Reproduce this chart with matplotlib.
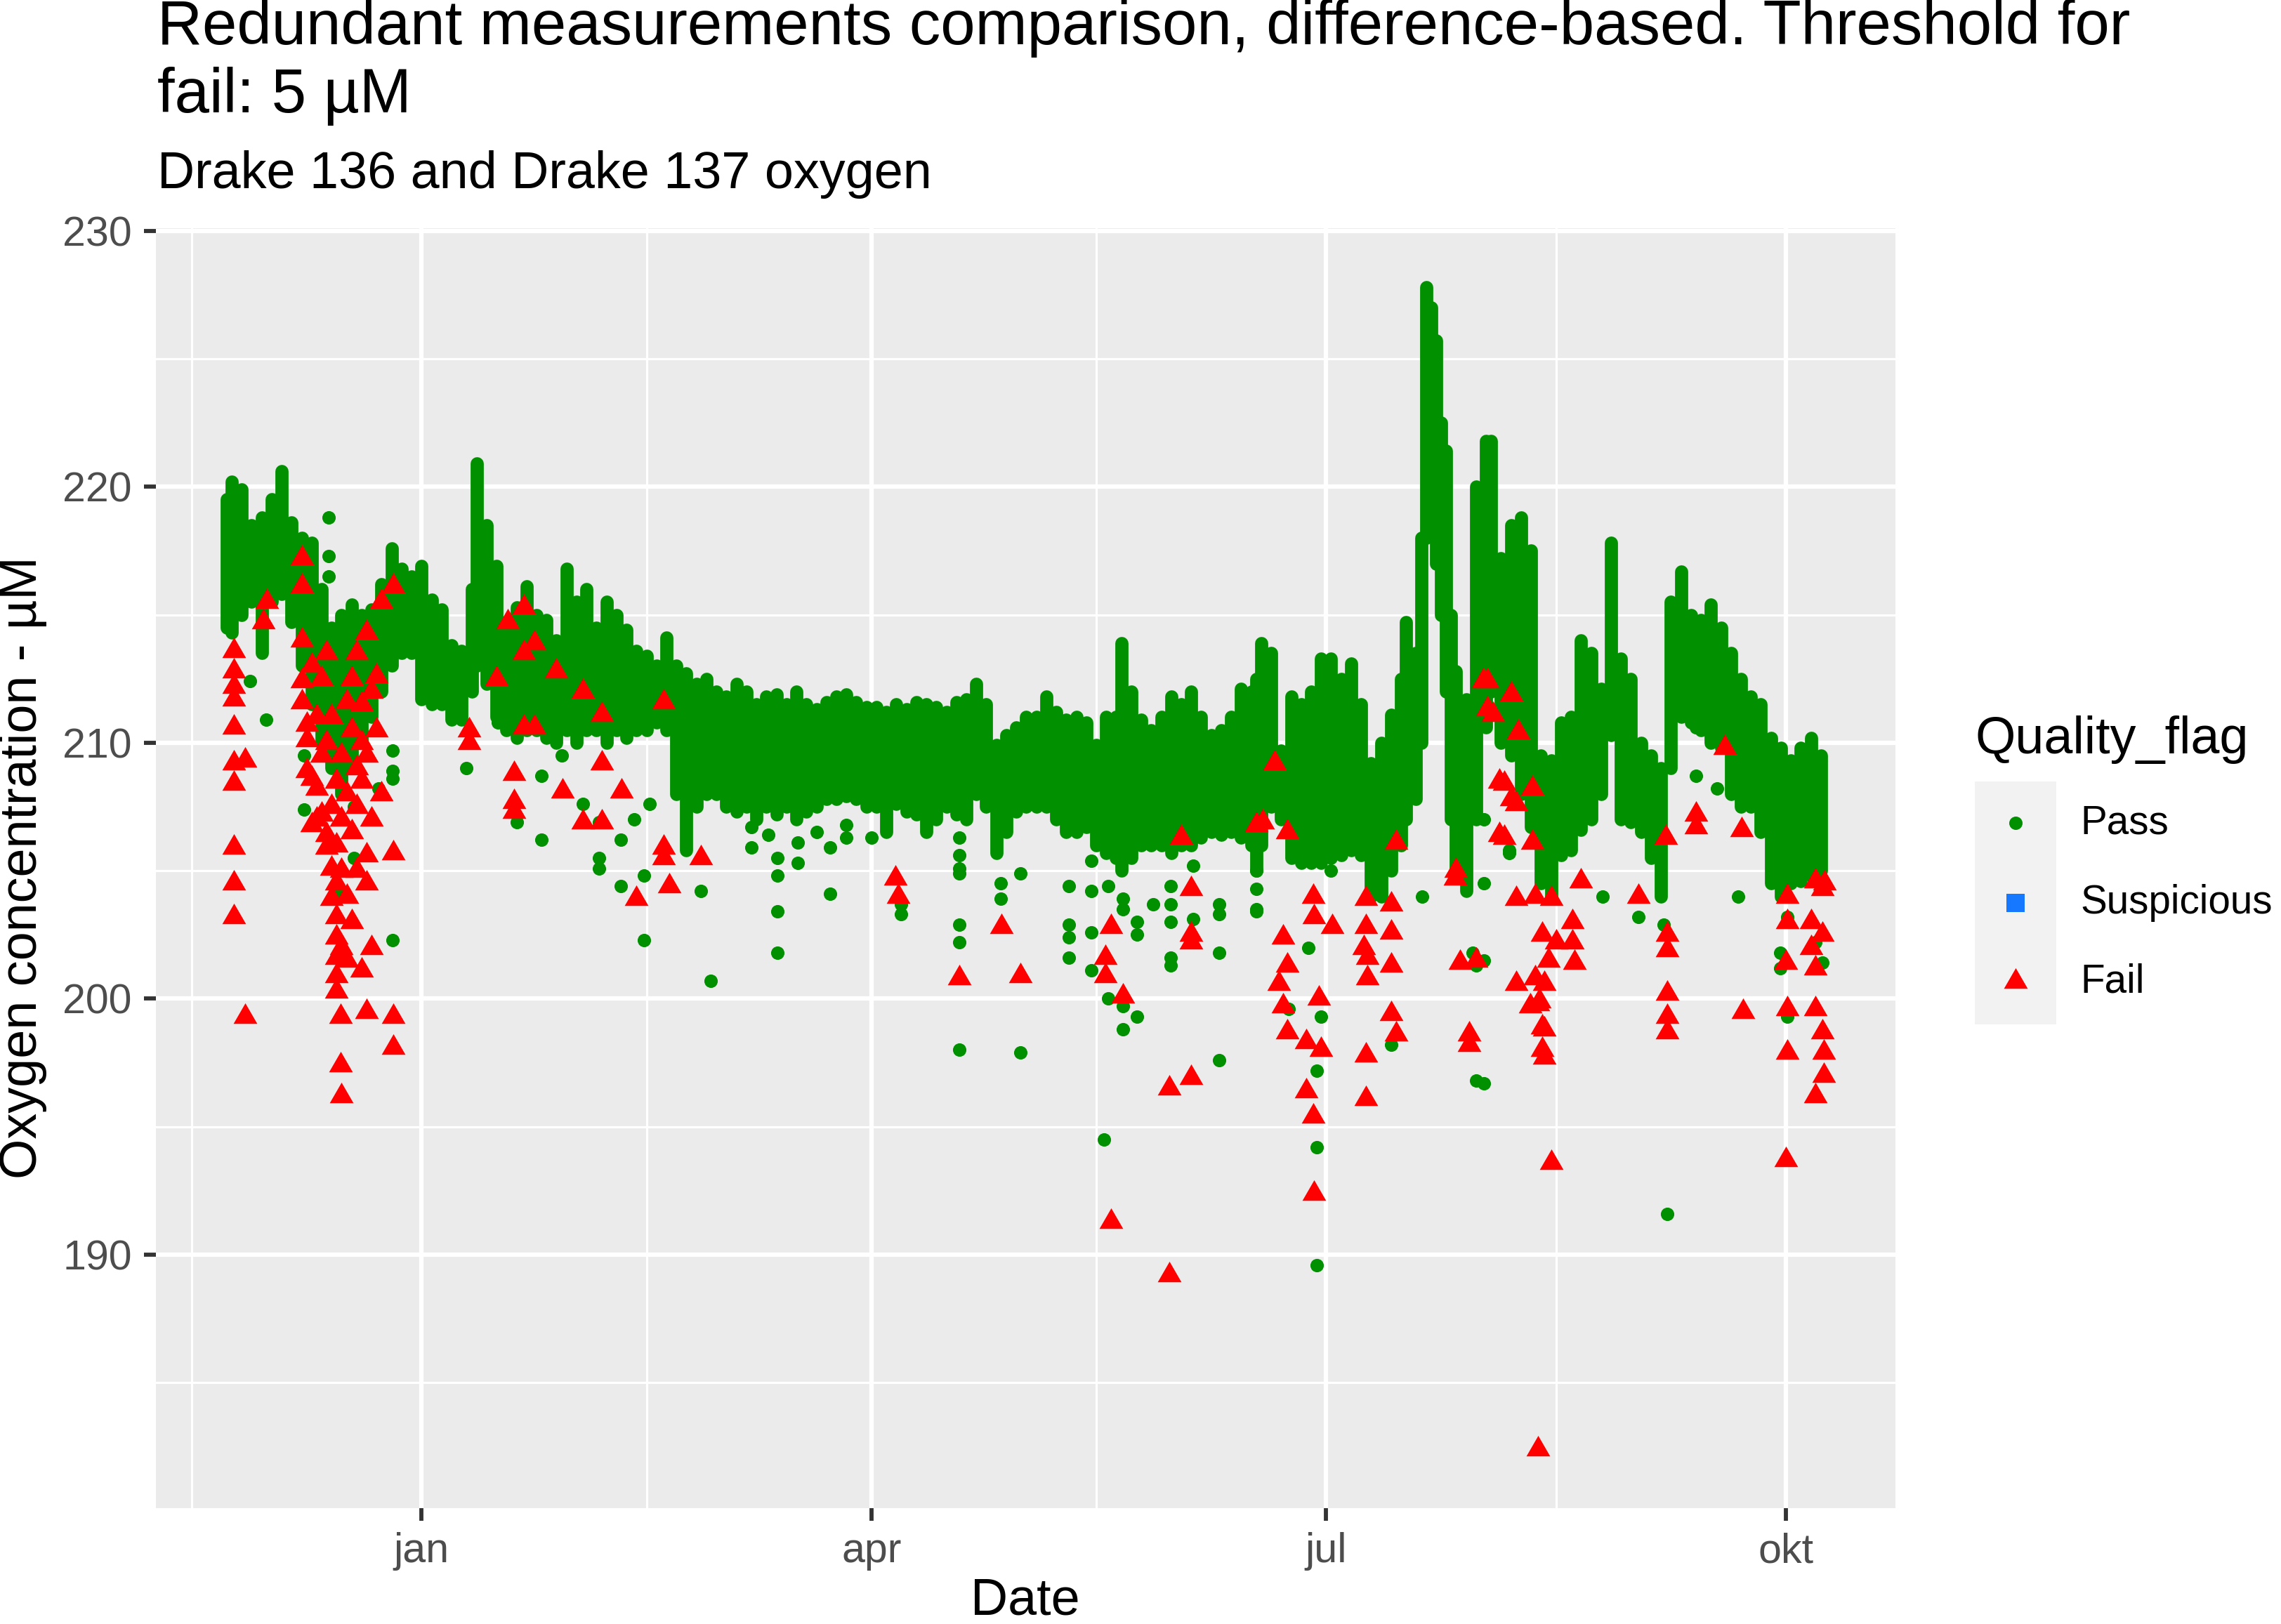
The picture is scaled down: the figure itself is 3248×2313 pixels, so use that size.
import numpy as np
import pandas as pd
import matplotlib
matplotlib.use('Agg')
import matplotlib.pyplot as plt
from matplotlib.lines import Line2D
from matplotlib.patches import Rectangle

GREEN = '#009000'
RED = '#FF0000'
BLUE = '#1677FF'

# dense part of the Pass points: upper / lower edge of the cloud
band_dates = [
    '2021-11-23', '2021-11-24', '2021-11-26', '2021-11-28', '2021-11-30', '2021-12-02',
    '2021-12-04', '2021-12-06', '2021-12-08', '2021-12-10', '2021-12-12', '2021-12-14',
    '2021-12-16', '2021-12-18', '2021-12-20', '2021-12-22', '2021-12-24', '2021-12-26',
    '2021-12-28', '2021-12-30', '2022-01-01', '2022-01-03', '2022-01-05', '2022-01-07',
    '2022-01-09', '2022-01-11', '2022-01-12', '2022-01-14', '2022-01-16', '2022-01-18',
    '2022-01-20', '2022-01-22', '2022-01-24', '2022-01-26', '2022-01-28', '2022-01-30',
    '2022-02-01', '2022-02-03', '2022-02-05', '2022-02-07', '2022-02-09', '2022-02-11',
    '2022-02-13', '2022-02-15', '2022-02-17', '2022-02-19', '2022-02-21', '2022-02-23',
    '2022-02-25', '2022-02-27', '2022-03-01', '2022-03-03', '2022-03-05', '2022-03-07',
    '2022-03-09', '2022-03-11', '2022-03-13', '2022-03-15', '2022-03-17', '2022-03-19',
    '2022-03-21', '2022-03-23', '2022-03-25', '2022-03-27', '2022-03-29', '2022-03-31',
    '2022-04-02', '2022-04-04', '2022-04-06', '2022-04-08', '2022-04-10', '2022-04-12',
    '2022-04-14', '2022-04-16', '2022-04-18', '2022-04-20', '2022-04-22', '2022-04-24',
    '2022-04-26', '2022-04-28', '2022-04-30', '2022-05-02', '2022-05-04', '2022-05-06',
    '2022-05-08', '2022-05-10', '2022-05-12', '2022-05-14', '2022-05-16', '2022-05-18',
    '2022-05-20', '2022-05-21', '2022-05-23', '2022-05-25', '2022-05-27', '2022-05-29',
    '2022-05-31', '2022-06-02', '2022-06-04', '2022-06-06', '2022-06-08', '2022-06-10',
    '2022-06-12', '2022-06-14', '2022-06-16', '2022-06-17', '2022-06-18', '2022-06-20',
    '2022-06-22', '2022-06-24', '2022-06-26', '2022-06-28', '2022-06-30', '2022-07-02',
    '2022-07-04', '2022-07-06', '2022-07-08', '2022-07-10', '2022-07-12', '2022-07-14',
    '2022-07-16', '2022-07-17', '2022-07-19', '2022-07-20', '2022-07-21', '2022-07-22',
    '2022-07-23', '2022-07-24', '2022-07-25', '2022-07-26', '2022-07-27', '2022-07-29',
    '2022-07-31', '2022-08-02', '2022-08-03', '2022-08-05', '2022-08-07', '2022-08-09',
    '2022-08-11', '2022-08-13', '2022-08-15', '2022-08-17', '2022-08-19', '2022-08-21',
    '2022-08-23', '2022-08-25', '2022-08-27', '2022-08-29', '2022-08-31', '2022-09-02',
    '2022-09-04', '2022-09-06', '2022-09-08', '2022-09-10', '2022-09-12', '2022-09-14',
    '2022-09-16', '2022-09-18', '2022-09-20', '2022-09-22', '2022-09-24', '2022-09-26',
    '2022-09-28', '2022-09-30', '2022-10-02', '2022-10-04', '2022-10-06', '2022-10-08',
]
band_top = [
    219.5, 220.2, 219.9, 218.5, 218.8, 219.5,
    220.6, 218.6, 218.0, 217.8, 216.0, 214.5,
    215.0, 215.4, 215.0, 215.2, 216.2, 217.6,
    216.8, 216.5, 216.9, 215.6, 215.2, 213.8,
    213.6, 216.0, 220.9, 218.5, 216.9, 214.6,
    215.3, 216.1, 215.0, 214.8, 214.0, 216.8,
    215.5, 216.0, 214.5, 215.5, 215.0, 214.4,
    213.6, 213.4, 213.0, 214.1, 213.0, 212.7,
    212.3, 212.5, 212.0, 211.8, 212.3, 212.0,
    211.5, 211.8, 211.9, 211.5, 212.0, 211.5,
    211.3, 211.6, 211.8, 211.9, 211.6, 211.4,
    211.4, 211.2, 211.5, 211.3, 211.6, 211.5,
    211.4, 211.2, 211.6, 211.7, 212.3, 211.5,
    209.9, 210.3, 210.6, 211.0, 211.0, 211.8,
    211.2, 210.9, 211.0, 210.8, 209.9, 211.0,
    211.0, 213.9, 212.0, 210.9, 210.5, 211.0,
    211.8, 211.5, 212.0, 211.0, 210.3, 210.5,
    211.0, 212.1, 212.0, 212.5, 213.9, 213.5,
    209.7, 211.8, 211.5, 212.0, 213.3, 213.3,
    212.5, 213.1, 211.5, 209.2, 210.0, 211.1,
    212.5, 214.7, 213.5, 218.0, 227.8, 227.0,
    225.7, 222.5, 221.4, 215.0, 212.8, 211.7,
    220.0, 221.8, 221.8, 217.2, 218.5, 218.8,
    217.5, 209.5, 209.3, 210.8, 211.0, 214.0,
    213.5, 212.1, 217.8, 213.3, 212.5, 210.0,
    209.5, 209.0, 215.5, 216.7, 215.0, 214.8,
    215.4, 214.5, 213.5, 212.5, 211.8, 211.5,
    210.2, 209.8, 209.3, 209.8, 210.2, 209.5,
]
band_bottom = [
    214.5, 214.3, 215.0, 215.5, 213.5, 215.5,
    215.8, 214.7, 213.0, 211.5, 210.0, 209.0,
    208.0, 209.0, 210.0, 211.0, 212.0, 213.0,
    213.5, 213.5, 211.7, 211.5, 211.5, 210.9,
    210.9, 212.0, 213.0, 212.3, 211.0, 210.5,
    210.2, 210.5, 210.5, 210.2, 210.0, 210.5,
    210.0, 210.5, 210.5, 210.0, 210.5, 210.2,
    210.5, 210.5, 210.8, 210.5, 208.0, 205.8,
    207.5, 208.0, 208.0, 207.5, 207.3, 207.5,
    207.0, 207.5, 207.2, 207.5, 207.0, 207.3,
    207.5, 207.8, 207.8, 207.9, 207.8, 207.5,
    207.5, 206.5, 207.6, 207.3, 207.2, 206.5,
    207.0, 207.5, 207.2, 207.0, 208.0, 207.5,
    205.7, 206.5, 207.3, 207.5, 207.5, 207.5,
    207.0, 206.5, 206.5, 206.7, 206.0, 205.7,
    205.5, 205.0, 205.5, 206.0, 206.0, 206.0,
    205.7, 206.0, 206.0, 206.3, 206.5, 206.4,
    206.5, 206.3, 206.0, 205.0, 206.0, 207.5,
    207.0, 205.5, 205.3, 205.3, 205.3, 205.5,
    205.6, 205.8, 205.6, 204.0, 204.0, 205.0,
    206.0, 207.0, 207.8, 210.0, 218.0, 220.8,
    217.0, 215.0, 212.0, 207.0, 204.7, 204.2,
    207.0, 210.6, 212.0, 210.0, 209.5, 208.0,
    206.7, 204.5, 204.0, 205.6, 205.8, 206.6,
    207.0, 208.0, 210.3, 207.0, 206.9, 206.5,
    205.5, 204.0, 209.0, 211.0, 210.8, 210.5,
    210.0, 209.8, 208.0, 207.5, 207.5, 206.5,
    204.5, 204.0, 204.5, 204.6, 204.8, 205.0,
]

# loose Pass points below the cloud
pass_dates = [
    '2021-11-27 16:00', '2021-11-30 20:00', '2021-12-08 12:00', '2021-12-13 08:00',
    '2021-12-15 16:00', '2021-12-18 12:00', '2021-12-21 12:00', '2021-12-23 08:00',
    '2021-12-26 04:00', '2022-01-10 00:00', '2022-01-16 08:00', '2022-01-20 00:00',
    '2022-01-25 00:00', '2022-01-29 00:00', '2022-02-02 08:00', '2022-02-05 12:00',
    '2022-02-09 20:00', '2022-02-12 12:00', '2022-02-14 12:00', '2022-02-15 16:00',
    '2022-02-25 20:00', '2022-02-27 20:00', '2022-03-08 00:00', '2022-03-11 10:00',
    '2022-03-13 05:00', '2022-03-17 07:00', '2022-03-21 00:00', '2022-03-23 17:00',
    '2022-03-27 00:00', '2022-04-01 00:00', '2022-04-07 00:00', '2022-04-18 14:00',
    '2022-04-26 20:00', '2022-04-30 20:00', '2022-05-10 14:00', '2022-05-15 00:00',
    '2022-05-17 14:00', '2022-05-18 08:00', '2022-05-21 08:00', '2022-05-24 05:00',
    '2022-05-27 10:00', '2022-05-30 20:00', '2022-06-04 10:00', '2022-06-09 14:00',
    '2022-06-17 00:00', '2022-06-23 12:00', '2022-06-27 12:00', '2022-06-29 02:00',
    '2022-06-30 00:00', '2022-07-01 22:00', '2022-07-14 02:00', '2022-07-20 05:00',
    '2022-07-30 08:00', '2022-07-31 00:00', '2022-08-01 12:00', '2022-08-06 14:00',
    '2022-08-25 08:00', '2022-09-01 10:00', '2022-09-06 12:00', '2022-09-07 05:00',
    '2022-09-13 00:00', '2022-09-17 07:00', '2022-09-21 12:00', '2022-09-29 22:00',
    '2022-10-01 07:00', '2022-10-06 22:00', '2022-10-08 07:00',
]
pass_o2 = [
    [212.4], [210.9], [209.5, 207.4], [218.8, 217.3, 216.5],
    [204.2], [205.5, 207.5], [211.6], [208.2],
    [202.3, 208.6, 209.7, 208.9], [209.0], [210.8], [206.9],
    [206.2, 208.7], [209.5], [207.6], [205.5, 205.1, 206.9],
    [204.4, 206.2], [207.0], [204.8, 202.3], [207.6],
    [204.2], [200.7], [205.9, 206.7], [206.4],
    [205.5, 204.8, 203.4, 201.8], [206.1, 205.3], [206.5], [205.9, 204.1],
    [206.8, 206.3], [206.3], [203.3, 203.7], [206.3, 205.6, 205.1, 204.9, 202.9, 202.2, 198.0],
    [204.5, 203.9], [204.9, 197.9], [204.4, 202.9, 202.4, 201.6], [205.4, 204.2, 202.6, 201.1],
    [194.5], [204.4, 200.0], [203.9, 199.7, 198.8, 203.5], [199.3, 203.0, 202.5],
    [203.7], [204.4, 203.7, 203.0, 201.6, 201.3], [205.2, 203.1], [203.7, 203.3, 201.8, 197.6],
    [205.0, 204.3, 203.4, 203.5], [199.6], [202.0], [194.2, 197.2, 189.6],
    [199.3], [205.0], [198.2], [204.0],
    [201.8], [196.8, 201.3], [196.7, 207.0, 204.5, 201.5], [205.8, 205.7],
    [204.0], [203.2], [202.9], [191.6],
    [210.6, 208.7], [208.2], [204.0], [201.8, 201.2],
    [199.3, 203.2, 199.6], [202.2], [201.4],
]

# Fail points
fail_dates = [
    '2021-11-24 12:00', '2021-11-26 18:00', '2021-11-30 09:00', '2021-12-01 00:00',
    '2021-12-08 00:00', '2021-12-09 00:00', '2021-12-10 00:00', '2021-12-11 00:00',
    '2021-12-12 00:00', '2021-12-13 00:00', '2021-12-14 00:00', '2021-12-15 00:00',
    '2021-12-15 18:00', '2021-12-16 00:00', '2021-12-17 00:00', '2021-12-18 00:00',
    '2021-12-19 00:00', '2021-12-20 00:00', '2021-12-21 00:00', '2021-12-22 00:00',
    '2021-12-23 00:00', '2021-12-24 00:00', '2021-12-26 08:00', '2022-01-10 12:00',
    '2022-01-16 00:00', '2022-01-18 05:00', '2022-01-19 12:00', '2022-01-21 10:00',
    '2022-01-23 14:00', '2022-01-28 00:00', '2022-01-29 05:00', '2022-02-02 08:00',
    '2022-02-06 00:00', '2022-02-10 00:00', '2022-02-13 00:00', '2022-02-18 10:00',
    '2022-02-19 12:00', '2022-02-25 22:00', '2022-04-05 20:00', '2022-04-06 08:00',
    '2022-04-18 14:00', '2022-04-27 00:00', '2022-04-30 20:00', '2022-05-17 20:00',
    '2022-05-18 22:00', '2022-05-19 00:00', '2022-05-21 08:00', '2022-05-30 14:00',
    '2022-06-02 00:00', '2022-06-04 00:00', '2022-06-17 00:00', '2022-06-18 08:00',
    '2022-06-20 16:00', '2022-06-21 14:00', '2022-06-22 08:00', '2022-06-23 06:00',
    '2022-06-27 00:00', '2022-06-28 10:00', '2022-06-28 14:00', '2022-06-29 14:00',
    '2022-06-30 00:00', '2022-07-02 05:00', '2022-07-08 12:00', '2022-07-09 00:00',
    '2022-07-09 05:00', '2022-07-14 02:00', '2022-07-15 00:00', '2022-07-26 20:00',
    '2022-07-27 00:00', '2022-07-27 20:00', '2022-07-29 14:00', '2022-07-31 00:00',
    '2022-08-01 10:00', '2022-08-02 06:00', '2022-08-03 10:00', '2022-08-04 17:00',
    '2022-08-05 17:00', '2022-08-07 00:00', '2022-08-08 00:00', '2022-08-08 12:00',
    '2022-08-10 20:00', '2022-08-11 08:00', '2022-08-11 20:00', '2022-08-12 08:00',
    '2022-08-12 17:00', '2022-08-13 05:00', '2022-08-13 17:00', '2022-08-14 12:00',
    '2022-08-15 00:00', '2022-08-16 00:00', '2022-08-19 07:00', '2022-08-19 17:00',
    '2022-08-21 00:00', '2022-09-01 10:00', '2022-09-07 00:00', '2022-09-07 05:00',
    '2022-09-13 00:00', '2022-09-18 17:00', '2022-09-22 05:00', '2022-09-22 10:00',
    '2022-10-01 00:00', '2022-10-01 07:00', '2022-10-06 00:00', '2022-10-06 22:00',
    '2022-10-08 07:00', '2022-10-08 14:00', '2022-10-08 19:00',
]
fail_o2 = [
    [213.6, 212.8, 212.2, 211.7, 210.6, 209.2, 208.4, 205.9, 204.5, 203.2],
    [209.3, 199.3], [214.7], [215.5],
    [217.2, 216.1, 214.0, 212.4, 211.6], [210.7, 210.1, 208.9], [206.8, 213.0, 208.6], [208.2, 207.0, 211.0],
    [207.2, 209.5, 212.5], [206.4, 205.9, 210.0, 213.5], [205.1, 203.9, 207.5, 211.0],
    [203.2, 202.4, 201.6, 200.9, 200.3, 204.5, 206.0, 208.5],
    [199.3, 197.4], [196.2, 202.0, 205.0, 207.0, 209.5], [211.6, 208.0, 204.0, 201.5], [210.5, 206.5, 203.0, 212.5],
    [209.0, 207.5, 213.5, 205.0], [211.5, 208.5, 210.0, 201.1], [214.3, 209.5, 205.6, 199.5, 204.5], [207.0, 202.0, 212.0],
    [212.6, 210.5], [215.5, 208.0], [205.7, 199.3, 198.1, 216.1], [210.5, 210.0],
    [212.5], [214.7], [208.8, 207.7, 207.3], [215.3, 210.6, 213.5],
    [213.9, 210.6], [212.8], [208.1], [206.9, 212.0],
    [206.9, 209.2, 211.1], [208.1], [203.9], [205.9, 205.5, 211.6],
    [204.4], [205.5], [204.7], [204.0],
    [200.8], [202.8], [200.9], [201.6, 200.9],
    [202.8], [191.3], [200.1], [196.5, 189.2],
    [206.3], [204.3, 202.5, 202.2, 196.9], [206.8], [206.9],
    [209.2], [200.6], [202.4, 199.7], [206.5, 201.3, 198.7],
    [196.4, 198.3], [195.4, 204.0], [192.4, 203.2], [200.0],
    [198.0], [202.8], [202.0], [197.8, 196.1, 203.9, 202.8],
    [200.8, 201.6], [199.4, 201.3, 202.6, 203.7], [198.6, 206.1], [204.7],
    [205.0], [201.4], [198.6, 198.2], [201.5],
    [212.4], [212.4, 211.3], [211.1], [208.5, 206.4],
    [208.4, 206.3], [207.8, 211.9], [207.6, 203.9, 200.6], [210.4],
    [199.7], [208.2, 206.1], [204.0, 200.8], [182.4, 199.8],
    [199.9], [202.5, 198.9, 198.0], [200.6, 197.7, 198.8], [201.5],
    [193.6, 203.9], [202.2], [202.2, 203.0], [201.4],
    [204.6], [204.0], [206.3], [202.5, 201.9, 200.2, 199.3, 198.7],
    [207.2, 206.7], [209.8], [206.6], [199.5],
    [201.4, 193.7], [204.0, 203.0, 199.6, 197.9], [203.0, 202.0], [204.6, 201.2, 199.6, 196.2],
    [204.3, 202.5, 198.7], [197.9, 197.0], [204.5],
]

major_dates = ['2022-01-01', '2022-04-01', '2022-07-01', '2022-10-01']
major_labels = ['jan', 'apr', 'jul', 'okt']
minor_dates = ['2021-11-16', '2022-02-15', '2022-05-16', '2022-08-16']

# ---------------------------------------------------------------
bx = pd.to_datetime(band_dates)
px = pd.to_datetime([d for d, vals in zip(pass_dates, pass_o2) for v in vals])
py = [v for vals in pass_o2 for v in vals]
fx = pd.to_datetime([d for d, vals in zip(fail_dates, fail_o2) for v in vals])
fy = [v for vals in fail_o2 for v in vals]

plt.rcParams['font.family'] = ['Liberation Sans', 'DejaVu Sans']

W, H = 3248, 2313
fig = plt.figure(figsize=(W / 300, H / 300), dpi=300)
ax = fig.add_axes([222 / W, 1 - 2148 / H, (2699 - 222) / W, (2148 - 325) / H])
ax.set_facecolor('#EBEBEB')
for sp in ax.spines.values():
    sp.set_visible(False)

tri = [(-1, -0.577), (1, -0.577), (0, 1.155)]

ax.vlines(bx, band_bottom, band_top, colors=GREEN, linewidth=4.5, capstyle='round', zorder=3)
ax.scatter(px, py, s=21, color=GREEN, linewidths=0, zorder=3)
ax.scatter(fx, fy, s=88, marker=tri, color=RED, linewidths=0, zorder=4)

ax.set_xlim(pd.Timestamp('2021-11-08 20:00'), pd.Timestamp('2022-10-22 22:00'))
ax.set_ylim(180.1, 230.1)

ax.set_xticks(pd.to_datetime(major_dates))
ax.set_xticklabels(major_labels)
ax.set_xticks(pd.to_datetime(minor_dates), minor=True)
ax.set_yticks([190, 200, 210, 220, 230])
ax.set_yticks([185, 195, 205, 215, 225], minor=True)

ax.grid(which='major', color='white', linewidth=1.5)
ax.grid(which='minor', color='white', linewidth=0.75)
ax.set_axisbelow(True)

ax.tick_params(which='major', length=4.2, width=1.4, color='#333333',
               labelsize=14.2, labelcolor='#4D4D4D', pad=4.0)
ax.tick_params(which='minor', length=0)

# titles and axis labels
fig.text(224 / W, 1 - 63 / H, 'Redundant measurements comparison, difference-based. Threshold for',
         fontsize=21.3, ha='left', va='baseline')
fig.text(224 / W, 1 - 160 / H, 'fail: 5 µM', fontsize=21.3, ha='left', va='baseline')
fig.text(224 / W, 1 - 268 / H, 'Drake 136 and Drake 137 oxygen', fontsize=17.7, ha='left', va='baseline')
fig.text(1460 / W, 1 - 2299 / H, 'Date', fontsize=17.7, ha='center', va='baseline')
fig.text(33 / W, 1 - 1236 / H, 'Oxygen concentration - µM', fontsize=17.7, rotation=90,
         ha='center', va='center')

# legend
fig.text(2812 / W, 1 - 1073 / H, 'Quality_flag', fontsize=17.7, ha='left', va='baseline')
fig.add_artist(Rectangle((2812 / W, 1 - 1459 / H), 116 / W, 346 / H,
                         transform=fig.transFigure, facecolor='#F2F2F2', edgecolor='none'))
key_y = [1172, 1286, 1398]
key_names = ['Pass', 'Suspicious', 'Fail']
key_marks = [('o', GREEN, 4.56), ('s', BLUE, 6.2), (tri, RED, 9.4)]
for yk, name, (mk, col, ms) in zip(key_y, key_names, key_marks):
    fig.add_artist(Line2D([2870 / W], [1 - yk / H], transform=fig.transFigure, marker=mk,
                          markersize=ms, markerfacecolor=col, markeredgewidth=0, linestyle='none'))
    fig.text(2962 / W, 1 - yk / H, name, fontsize=13.6, ha='left', va='center')

fig.savefig('out.png', dpi=300)
